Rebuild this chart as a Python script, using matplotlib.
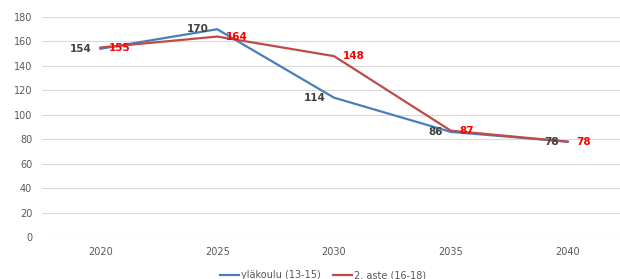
import matplotlib
matplotlib.use("Agg")
import matplotlib.pyplot as plt

years = ["2020", "2025", "2030", "2035", "2040"]
ylakoulu = [154, 170, 114, 86, 78]
toinen_aste = [155, 164, 148, 87, 78]
series_names = ["yläkoulu (13-15)", "2. aste (16-18)"]

W, H = 620, 279
fig = plt.figure(figsize=(W / 100, H / 100), dpi=100)
ax = fig.add_axes([42 / W, 42 / H, (626 - 42) / W, 220 / H])

x = list(range(len(years)))
blue = "#4A7EBB"
red = "#BE4B48"
ax.plot(x, ylakoulu, color=blue, lw=1.6, label=series_names[0], zorder=3)
ax.plot(x, toinen_aste, color=red, lw=1.6, label=series_names[1], zorder=3)

for xi, v in zip(x, ylakoulu):
    ax.annotate(str(v), (xi, v), xytext=(-6, 0), textcoords="offset points",
                ha="right", va="center", fontsize=7.5, fontweight="bold",
                color="#404040", zorder=4)
for xi, v in zip(x, toinen_aste):
    ax.annotate(str(v), (xi, v), xytext=(6, 0), textcoords="offset points",
                ha="left", va="center", fontsize=7.5, fontweight="bold",
                color="#FF0000", zorder=4)

ax.set_xlim(-0.5, 4.5)
ax.set_ylim(0, 180)
ax.set_yticks(range(0, 181, 20))
ax.set_xticks(x)
ax.set_xticklabels(years)
ax.grid(axis="y", color="#D9D9D9", lw=0.8)
ax.set_axisbelow(True)
for s in ax.spines.values():
    s.set_visible(False)
ax.tick_params(length=0, labelsize=7, colors="#595959", pad=7)
ax.tick_params(axis="y", pad=7)

fig.legend(loc="center", bbox_to_anchor=(323 / W, 1 - 275 / H), ncol=2,
           frameon=False, fontsize=7, handlelength=2.0, handletextpad=0.2,
           columnspacing=1.2, labelcolor="#595959")

fig.savefig("out.png", dpi=100)
